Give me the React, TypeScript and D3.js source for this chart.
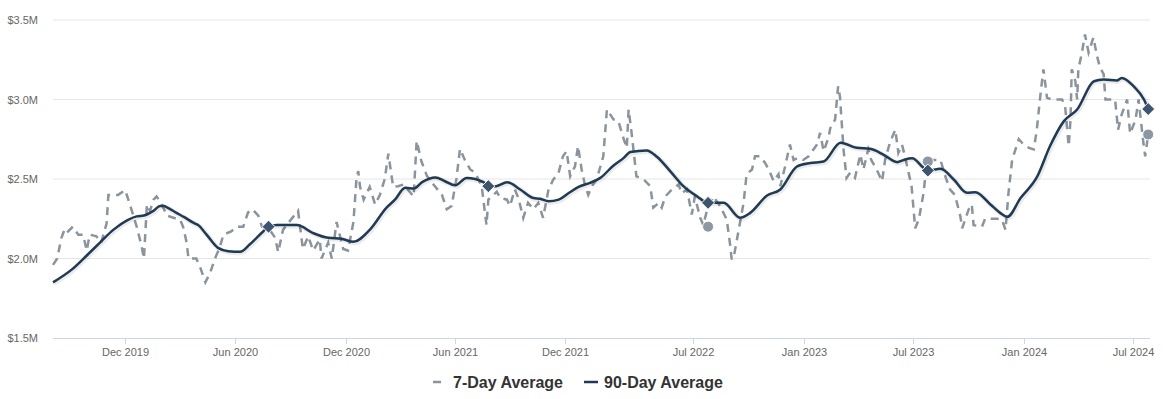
import React from 'react';
import * as d3 from 'd3';

// 7-day average ($M)
const SEVEN_DAY: [string, number][] = [
  ['2019-08-03', 1.96], ['2019-08-10', 2.0], ['2019-08-17', 2.13], ['2019-08-23', 2.19], ['2019-08-28', 2.17],
  ['2019-09-05', 2.2], ['2019-09-14', 2.15], ['2019-09-22', 2.15], ['2019-09-28', 2.05], ['2019-10-03', 2.15],
  ['2019-10-14', 2.14], ['2019-10-22', 2.1], ['2019-10-31', 2.22], ['2019-11-03', 2.4], ['2019-11-19', 2.4],
  ['2019-12-01', 2.43], ['2019-12-12', 2.3], ['2019-12-20', 2.2], ['2019-12-28', 2.08], ['2020-01-01', 2.0],
  ['2020-01-06', 2.34], ['2020-01-11', 2.3], ['2020-01-17', 2.37], ['2020-01-22', 2.39], ['2020-01-31', 2.34],
  ['2020-02-08', 2.27], ['2020-02-24', 2.25], ['2020-03-01', 2.245], ['2020-03-06', 2.2], ['2020-03-12', 2.1],
  ['2020-03-15', 2.0], ['2020-03-28', 2.0], ['2020-04-03', 1.95], ['2020-04-12', 1.85], ['2020-04-20', 1.91],
  ['2020-04-28', 2.0], ['2020-05-06', 2.07], ['2020-05-12', 2.15], ['2020-05-25', 2.17], ['2020-06-03', 2.2],
  ['2020-06-14', 2.2], ['2020-06-22', 2.29], ['2020-06-29', 2.31], ['2020-07-09', 2.27], ['2020-07-15', 2.2],
  ['2020-07-26', 2.19], ['2020-08-06', 2.13], ['2020-08-11', 2.04], ['2020-08-19', 2.18], ['2020-08-27', 2.22],
  ['2020-09-13', 2.3], ['2020-09-21', 2.06], ['2020-09-30', 2.14], ['2020-10-08', 2.05], ['2020-10-19', 2.12],
  ['2020-10-22', 2.0], ['2020-11-02', 2.1], ['2020-11-08', 2.0], ['2020-11-16', 2.23], ['2020-11-27', 2.06],
  ['2020-12-05', 2.05], ['2020-12-14', 2.23], ['2020-12-19', 2.5], ['2020-12-22', 2.55], ['2020-12-25', 2.45],
  ['2020-12-31', 2.37], ['2021-01-10', 2.45], ['2021-01-19', 2.34], ['2021-01-27', 2.4], ['2021-02-04', 2.5],
  ['2021-02-10', 2.66], ['2021-02-13', 2.58], ['2021-02-18', 2.45], ['2021-02-26', 2.455], ['2021-03-07', 2.465],
  ['2021-03-24', 2.39], ['2021-03-29', 2.74], ['2021-04-06', 2.61], ['2021-04-15', 2.52], ['2021-04-26', 2.465],
  ['2021-05-10', 2.4], ['2021-05-18', 2.31], ['2021-05-26', 2.33], ['2021-06-03', 2.5], ['2021-06-09', 2.69],
  ['2021-06-17', 2.62], ['2021-06-26', 2.56], ['2021-07-04', 2.54], ['2021-07-15', 2.455], ['2021-07-21', 2.27],
  ['2021-07-23', 2.21], ['2021-07-26', 2.37], ['2021-08-09', 2.42], ['2021-08-15', 2.38], ['2021-08-26', 2.37],
  ['2021-08-31', 2.33], ['2021-09-08', 2.434], ['2021-09-14', 2.38], ['2021-09-22', 2.256], ['2021-09-30', 2.35],
  ['2021-10-09', 2.31], ['2021-10-17', 2.35], ['2021-10-25', 2.256], ['2021-11-03', 2.434], ['2021-11-11', 2.497],
  ['2021-11-19', 2.53], ['2021-11-27', 2.643], ['2021-12-03', 2.675], ['2021-12-09', 2.517], ['2021-12-17', 2.58],
  ['2021-12-22', 2.707], ['2021-12-28', 2.56], ['2022-01-03', 2.455], ['2022-01-08', 2.4], ['2022-01-14', 2.455],
  ['2022-01-22', 2.497], ['2022-02-02', 2.643], ['2022-02-08', 2.937], ['2022-02-19', 2.874], ['2022-02-27', 2.864],
  ['2022-03-08', 2.75], ['2022-03-13', 2.696], ['2022-03-16', 2.937], ['2022-03-21', 2.79], ['2022-03-29', 2.517],
  ['2022-04-10', 2.497], ['2022-04-21', 2.455], ['2022-04-26', 2.32], ['2022-05-05', 2.35], ['2022-05-10', 2.32],
  ['2022-05-16', 2.39], ['2022-05-27', 2.434], ['2022-06-07', 2.465], ['2022-06-12', 2.41], ['2022-06-21', 2.434],
  ['2022-06-29', 2.277], ['2022-07-04', 2.39], ['2022-07-13', 2.256], ['2022-07-18', 2.21], ['2022-07-24', 2.3],
  ['2022-08-04', 2.39], ['2022-08-15', 2.33], ['2022-08-26', 2.245], ['2022-09-01', 2.077], ['2022-09-03', 2.0],
  ['2022-09-06', 1.995], ['2022-09-23', 2.35], ['2022-09-28', 2.53], ['2022-10-07', 2.56], ['2022-10-12', 2.643],
  ['2022-10-20', 2.643], ['2022-10-29', 2.6], ['2022-11-06', 2.54], ['2022-11-12', 2.486], ['2022-11-20', 2.53],
  ['2022-11-23', 2.455], ['2022-12-01', 2.58], ['2022-12-09', 2.717], ['2022-12-15', 2.62], ['2022-12-23', 2.633],
  ['2022-12-31', 2.62], ['2023-01-09', 2.643], ['2023-01-17', 2.686], ['2023-01-23', 2.717], ['2023-01-28', 2.79],
  ['2023-02-03', 2.675], ['2023-02-11', 2.76], ['2023-02-14', 2.82], ['2023-02-22', 2.874], ['2023-02-27', 3.083],
  ['2023-03-02', 3.02], ['2023-03-05', 2.853], ['2023-03-08', 2.686], ['2023-03-13', 2.507], ['2023-03-19', 2.54],
  ['2023-03-27', 2.507], ['2023-04-05', 2.654], ['2023-04-10', 2.56], ['2023-04-18', 2.686], ['2023-04-23', 2.62],
  ['2023-05-02', 2.56], ['2023-05-11', 2.486], ['2023-05-16', 2.62], ['2023-05-24', 2.728], ['2023-06-02', 2.81],
  ['2023-06-07', 2.665], ['2023-06-13', 2.717], ['2023-06-18', 2.643], ['2023-06-24', 2.54], ['2023-06-29', 2.455],
  ['2023-07-05', 2.19], ['2023-07-11', 2.245], ['2023-07-19', 2.413], ['2023-07-24', 2.6], ['2023-07-31', 2.62],
  ['2023-08-16', 2.62], ['2023-08-24', 2.517], ['2023-09-01', 2.434], ['2023-09-09', 2.4], ['2023-09-18', 2.266],
  ['2023-09-21', 2.19], ['2023-10-02', 2.31], ['2023-10-07', 2.34], ['2023-10-10', 2.21], ['2023-10-24', 2.2],
  ['2023-10-29', 2.25], ['2023-11-18', 2.25], ['2023-11-26', 2.245], ['2023-12-02', 2.18], ['2023-12-07', 2.413],
  ['2023-12-13', 2.62], ['2023-12-24', 2.75], ['2024-01-01', 2.717], ['2024-01-10', 2.696], ['2024-01-18', 2.686],
  ['2024-01-23', 2.81], ['2024-01-29', 3.03], ['2024-02-03', 3.19], ['2024-02-09', 3.01], ['2024-02-17', 3.0],
  ['2024-03-05', 3.0], ['2024-03-10', 2.958], ['2024-03-16', 2.707], ['2024-03-19', 2.874], ['2024-03-21', 3.19],
  ['2024-03-27', 3.115], ['2024-03-30', 3.0], ['2024-04-01', 3.19], ['2024-04-07', 3.296], ['2024-04-12', 3.409],
  ['2024-04-18', 3.296], ['2024-04-26', 3.39], ['2024-05-02', 3.273], ['2024-05-07', 3.2], ['2024-05-13', 3.16],
  ['2024-05-16', 3.0], ['2024-06-01', 3.0], ['2024-06-06', 2.81], ['2024-06-12', 2.906], ['2024-06-21', 3.0],
  ['2024-06-26', 2.785], ['2024-07-05', 2.874], ['2024-07-10', 3.0], ['2024-07-18', 2.728], ['2024-07-21', 2.643],
  ['2024-07-26', 2.78],
];

// 90-day average ($M)
const NINETY_DAY: [string, number][] = [
  ['2019-08-03', 1.85], ['2019-09-03', 1.93], ['2019-10-01', 2.03], ['2019-10-20', 2.1], ['2019-11-11', 2.18],
  ['2019-12-04', 2.24], ['2019-12-20', 2.265], ['2020-01-01', 2.27], ['2020-01-17', 2.3], ['2020-01-28', 2.33],
  ['2020-02-03', 2.33], ['2020-02-09', 2.32], ['2020-02-24', 2.287], ['2020-03-08', 2.26], ['2020-03-23', 2.225],
  ['2020-03-31', 2.21], ['2020-04-14', 2.15], ['2020-05-03', 2.067], ['2020-05-20', 2.046], ['2020-06-09', 2.042],
  ['2020-06-25', 2.09], ['2020-07-17', 2.17], ['2020-07-26', 2.2], ['2020-08-09', 2.21], ['2020-09-11', 2.21],
  ['2020-10-08', 2.16], ['2020-11-02', 2.13], ['2020-11-24', 2.124], ['2020-12-14', 2.105], ['2021-01-10', 2.18],
  ['2021-02-07', 2.32], ['2021-02-21', 2.37], ['2021-03-10', 2.445], ['2021-03-24', 2.44], ['2021-04-07', 2.48],
  ['2021-04-29', 2.51], ['2021-05-15', 2.486], ['2021-06-01', 2.46], ['2021-06-20', 2.507], ['2021-07-18', 2.48],
  ['2021-07-26', 2.455], ['2021-08-08', 2.455], ['2021-08-26', 2.48], ['2021-09-17', 2.434], ['2021-10-09', 2.38],
  ['2021-10-20', 2.376], ['2021-11-03', 2.36], ['2021-11-20', 2.37], ['2021-12-06', 2.41], ['2021-12-23', 2.45],
  ['2022-01-11', 2.476], ['2022-01-28', 2.507], ['2022-02-19', 2.585], ['2022-03-08', 2.633], ['2022-03-19', 2.67],
  ['2022-04-15', 2.68], ['2022-05-02', 2.64], ['2022-05-24', 2.55], ['2022-06-15', 2.455], ['2022-07-08', 2.39],
  ['2022-07-26', 2.35], ['2022-08-21', 2.35], ['2022-09-17', 2.256], ['2022-10-04', 2.287], ['2022-11-01', 2.396],
  ['2022-11-23', 2.434], ['2022-12-21', 2.58], ['2023-01-12', 2.6], ['2023-02-03', 2.61], ['2023-03-03', 2.728],
  ['2023-03-30', 2.696], ['2023-04-21', 2.69], ['2023-05-13', 2.654], ['2023-06-05', 2.606], ['2023-06-16', 2.62],
  ['2023-06-30', 2.63], ['2023-07-19', 2.57], ['2023-07-26', 2.553], ['2023-08-16', 2.564], ['2023-09-07', 2.497],
  ['2023-09-29', 2.413], ['2023-10-13', 2.417], ['2023-11-07', 2.34], ['2023-11-23', 2.287], ['2023-12-05', 2.262],
  ['2023-12-27', 2.38], ['2024-01-24', 2.518], ['2024-02-14', 2.707], ['2024-03-08', 2.864], ['2024-03-30', 2.937],
  ['2024-04-27', 3.115], ['2024-05-13', 3.126], ['2024-06-04', 3.12], ['2024-06-12', 3.136], ['2024-07-02', 3.083],
  ['2024-07-19', 3.0], ['2024-07-26', 2.94],
];

// yearly highlight points
const DIAMOND_DATES = ['2020-07-26', '2021-07-26', '2022-07-26', '2023-07-26', '2024-07-26'];
const CIRCLE_POINTS: [string, number][] = [['2022-07-26', 2.2], ['2023-07-26', 2.61], ['2024-07-26', 2.78]];

const X_TICKS = ['2019-12-01', '2020-06-01', '2020-12-01', '2021-06-01', '2021-12-01', '2022-07-01',
  '2023-01-01', '2023-07-01', '2024-01-01', '2024-07-01'];
const Y_TICKS = [1.5, 2.0, 2.5, 3.0, 3.5];

const SERIES_NAMES = ['7-Day Average', '90-Day Average'];

const FONT = '"Liberation Sans", Arial, Helvetica, sans-serif';
const C7 = '#8b939d';
const C90 = '#213a53';

const App = () => {
  const parse = d3.timeParse('%Y-%m-%d');
  const left = 53, right = 1150, top = 20, bottom = 338;

  const x = d3.scaleTime()
    .domain([parse('2019-08-03') as Date, parse('2024-07-29') as Date])
    .range([left, right]);
  const y = d3.scaleLinear().domain([1.5, 3.5]).range([bottom, top]);

  const line7 = d3.line<[string, number]>()
    .x(d => x(parse(d[0]) as Date))
    .y(d => y(d[1]));
  const line90 = d3.line<[string, number]>()
    .x(d => x(parse(d[0]) as Date))
    .y(d => y(d[1]))
    .curve(d3.curveMonotoneX);

  const fmt = d3.timeFormat('%b %Y');
  const ninety = new Map(NINETY_DAY);

  return (
    <svg width={1166} height={399} style={{ position: 'absolute', left: 0, top: 0, fontFamily: FONT }}>
      <rect width={1166} height={399} fill="#fff" />
      {Y_TICKS.map(t => (
        <g key={t}>
          {t > 1.5 && <line x1={left} x2={right} y1={y(t)} y2={y(t)} stroke="#e6e6e6" strokeWidth={1} />}
          <text x={38} y={y(t) + 4} textAnchor="end" fontSize={11} fill="#666">{`$${t.toFixed(1)}M`}</text>
        </g>
      ))}
      <line x1={left} x2={right} y1={bottom + 0.5} y2={bottom + 0.5} stroke="#ccd6eb" />
      {X_TICKS.map(t => {
        const xx = Math.round(x(parse(t) as Date)) + 0.5;
        return (
          <g key={t}>
            <line x1={xx} x2={xx} y1={bottom} y2={bottom + 6} stroke="#ccd6eb" />
            <text x={xx} y={bottom + 18} textAnchor="middle" fontSize={11} fill="#666">{fmt(parse(t) as Date)}</text>
          </g>
        );
      })}

      <path d={line7(SEVEN_DAY) || ''} fill="none" stroke={C7} strokeWidth={2.5} strokeDasharray="8,6" />

      <path d={line90(NINETY_DAY) || ''} fill="none" stroke="rgba(0,0,0,0.08)" strokeWidth={5}
        transform="translate(1,1)" strokeLinejoin="round" />
      <path d={line90(NINETY_DAY) || ''} fill="none" stroke={C90} strokeWidth={2.5} strokeLinejoin="round" />

      {CIRCLE_POINTS.map(([d, v]) => (
        <circle key={d} cx={x(parse(d) as Date)} cy={y(v)} r={5.5} fill="#8e98a3" stroke="#fff" strokeWidth={1} />
      ))}
      {DIAMOND_DATES.map(d => {
        const cx = x(parse(d) as Date), cy = y(ninety.get(d) as number);
        return (
          <path key={d} d={`M${cx},${cy - 6.5}L${cx + 6.5},${cy}L${cx},${cy + 6.5}L${cx - 6.5},${cy}Z`}
            fill="#3e556f" stroke="#fff" strokeWidth={1} />
        );
      })}

      <g fontSize={16} fontWeight="bold" fill="#333">
        <line x1={433} x2={441} y1={382} y2={382} stroke={C7} strokeWidth={2.5} />
        <text x={453} y={388}>{SERIES_NAMES[0]}</text>
        <line x1={584} x2={598} y1={382} y2={382} stroke={C90} strokeWidth={2.5} />
        <text x={604} y={388}>{SERIES_NAMES[1]}</text>
      </g>
    </svg>
  );
};

export default App;
